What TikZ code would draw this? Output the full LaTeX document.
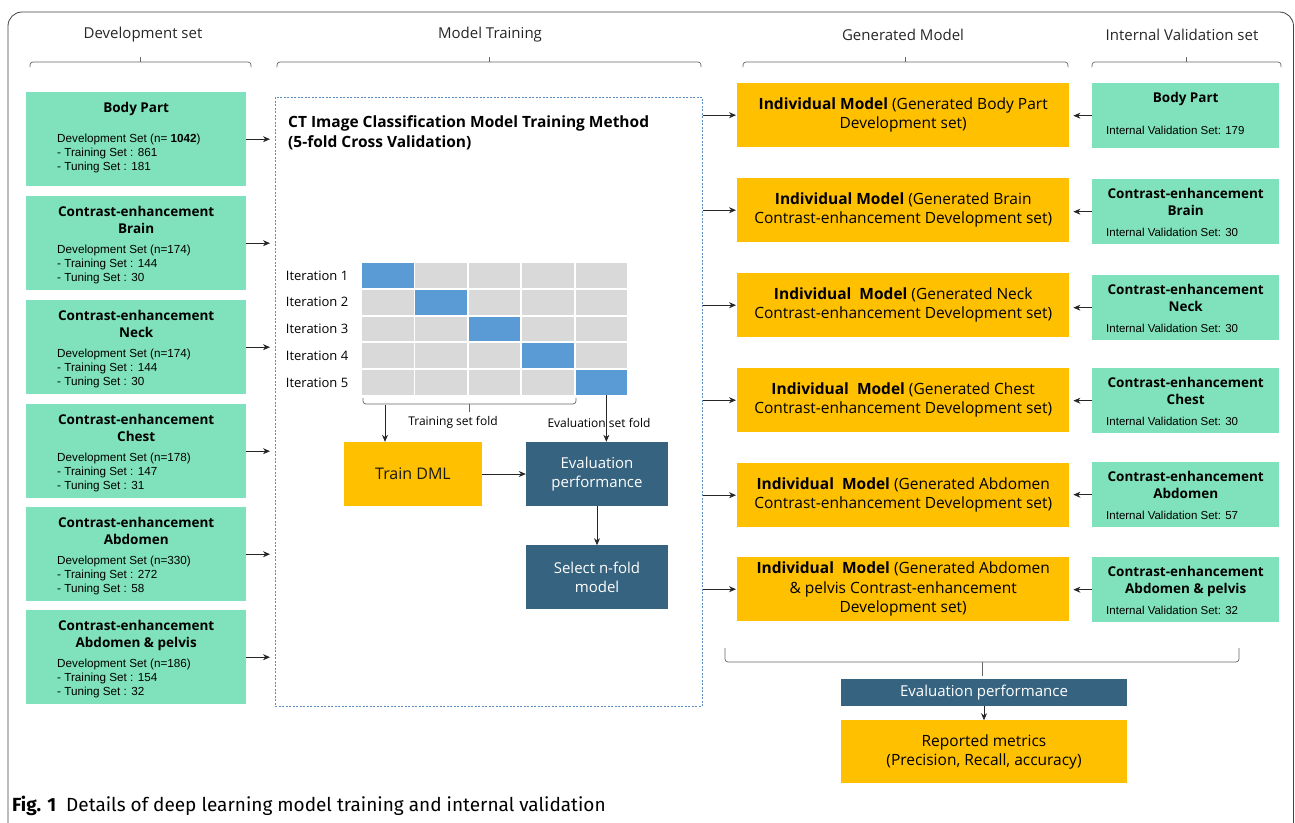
\documentclass[tikz,border=0pt]{standalone}
\usepackage{fontspec}
\setmainfont{Open Sans}
\newfontfamily\arialfont{Liberation Sans}
\newfontfamily\capfont{Fira Sans}
\usetikzlibrary{positioning, arrows, arrows.meta}

\definecolor{mint}{HTML}{80E2BD}
\definecolor{amber}{HTML}{FFC000}
\definecolor{navy}{HTML}{36637F}
\definecolor{cellgray}{HTML}{D9D9D9}
\definecolor{cellblue}{HTML}{5B9BD5}
\definecolor{dashblue}{HTML}{5B8CC2}

% a flat brace: x1, x2, line y, end y, tip y
\newcommand{\colbrace}[5]{%
  \draw[bracket, rounded corners=3pt] (#1,#4) -- (#1,#3) -- (#2,#3) -- (#2,#4);
  \draw[bracket] ({(#1+#2)/2},#3) -- ({(#1+#2)/2},#5);}

\tikzset{
  devbox/.style={
    rectangle,
    minimum width=220pt,
    minimum height=94pt,
    inner sep=0pt,
    fill=mint
    },
  valbox/.style={
    rectangle,
    minimum width=187pt,
    minimum height=65pt,
    inner sep=0pt,
    fill=mint
    },
  genbox/.style={
    rectangle,
    minimum width=332pt,
    minimum height=64pt,
    align=center,
    fill=amber,
    font=\fontsize{15.5}{19.5}\selectfont
    },
  navybox/.style={
    rectangle,
    minimum width=142pt,
    minimum height=64pt,
    align=center,
    fill=navy,
    text=white,
    font=\fontsize{15}{19}\selectfont
    },
  boxtitle/.style={align=center, inner sep=0pt, font=\bfseries\fontsize{13.5}{17}\selectfont},
  boxdetail/.style={align=left, inner sep=0pt, font=\arialfont\fontsize{11.7}{14}\selectfont},
  header/.style={text=black!85, font=\fontsize{15}{18}\selectfont},
  bracket/.style={draw=black!60, line width=0.7pt},
  arrow/.style={->, >={Stealth[length=7pt, width=6pt]}, line width=0.8pt, black!85},
}

\begin{document}
\begin{tikzpicture}[x=1pt, y=-1pt]
    \tikzstyle{foldcell}=[rectangle, minimum width=51.5pt, minimum height=24.8pt, inner sep=0pt]
    \tikzstyle{iterlabel}=[anchor=east, font=\fontsize{13}{15}\selectfont]
    \tikzstyle{foldlabel}=[font=\fontsize{12}{14}\selectfont]
    \tikzstyle{valdetail}=[boxdetail, font=\arialfont\fontsize{11.5}{12}\selectfont]

    \useasboundingbox (0,0) rectangle (1295,822);

    % Outer frame, open at the bottom
    \draw[black!75, line width=0.8pt, rounded corners=14pt]
        (8,824) -- (8,12) -- (1293.5,12) -- (1293.5,824);

    % Column headers and their braces
    \foreach \name / \xa / \xb / \xt / \txt in {dev/30/251/143/Development set,
        mt/277/701/490/Model Training, gm/743/1068/903/Generated Model,
        iv/1092/1281/1182/Internal Validation set}
    {
        \node[header] (head-\name) at (\xt,35) {\txt};
        \colbrace{\xa}{\xb}{62}{67}{57}
    }

    % Dashed frame around the cross validation
    \node[rectangle, draw=dashblue, dash pattern=on 2pt off 1.5pt, line width=0.9pt,
          minimum width=427pt, minimum height=609pt, anchor=north west] (cvbox) at (275,97) {};
    \node[anchor=north west, align=left, inner sep=0pt, font=\bfseries\fontsize{15.5}{20}\selectfont]
        (cvtitle) at ([xshift=13pt, yshift=-18pt]cvbox.north west)
        {CT Image Classification Model Training Method\\(5-fold Cross Validation)};

    % Draw the development set boxes
    \foreach \i / \ytop / \title / \dy / \detail in {
        1/92/{Body Part}/42pt/{Development Set (n= \textbf{1042})\\- Training Set : 861\\- Tuning Set : 181},
        2/196/{Contrast-enhancement\\Brain}/49pt/{Development Set (n=174)\\- Training Set : 144\\- Tuning Set : 30},
        3/300/{Contrast-enhancement\\Neck}/49pt/{Development Set (n=174)\\- Training Set : 144\\- Tuning Set : 30},
        4/404/{Contrast-enhancement\\Chest}/49pt/{Development Set (n=178)\\- Training Set : 147\\- Tuning Set : 31},
        5/507/{Contrast-enhancement\\Abdomen}/49pt/{Development Set (n=330)\\- Training Set : 272\\- Tuning Set : 58},
        6/610/{Contrast-enhancement\\Abdomen \& pelvis}/49pt/{Development Set (n=186)\\- Training Set : 154\\- Tuning Set : 32}}
    {
        \node[devbox, anchor=north west] (dev-\i) at (26,\ytop) {};
        \node[boxtitle, anchor=north] (dev-\i-t) at ([yshift=-10pt]dev-\i.north) {\title};
        \node[boxdetail, anchor=north west] (dev-\i-d) at ([xshift=31pt, yshift=-\dy]dev-\i.north west) {\detail};
        \draw[arrow, shorten >=5pt] (dev-\i.east) -- (dev-\i.east -| cvbox.west);
    }

    % Draw the 5-fold grid
    \foreach \r in {1,...,5}
    {
        \foreach \c in {1,...,5}
        {
            \ifnum\r=\c \def\foldcol{cellblue}\else\def\foldcol{cellgray}\fi
            \node[foldcell, fill=\foldcol] (cell-\r-\c) at ({387.75+53.4*(\c-1)}, {275.4+26.8*(\r-1)}) {};
        }
        \node[iterlabel] (iter-\r) at ([xshift=-10pt]cell-\r-1.west) {Iteration \r};
    }

    % Training / evaluation split of the folds
    \colbrace{363}{576}{404}{398}{412}
    \node[foldlabel] (trainlab) at (453,422) {Training set fold};
    \node[foldlabel] (evallab) at (599,423) {Evaluation set fold};
    \coordinate (trainfold) at (385,405);

    \node[navybox, fill=amber, text=black!90, minimum width=138pt, font=\fontsize{16}{19}\selectfont]
        (traindml) at (413,474) {Train DML};
    \node[navybox] (evalperf) at (597,474) {Evaluation\\performance};
    \node[navybox, below=39pt of evalperf] (selectfold) {Select n-fold\\model};

    \draw[arrow] (trainfold) -- (trainfold |- traindml.north);
    \draw[arrow] ([xshift=5pt]cell-5-5.south) -- ([xshift=5pt]cell-5-5.south |- evalperf.north);
    \draw[arrow] (traindml) -- (evalperf);
    \draw[arrow] (evalperf) -- (selectfold);

    % Generated models and internal validation sets
    \foreach \i / \yg / \yv / \model / \title / \dy / \vset in {
        1/83/83/{\textbf{Individual Model} (Generated Body Part\\Development set)}/{Body Part}/43pt/179,
        2/178/179/{\textbf{Individual Model} (Generated Brain\\Contrast-enhancement Development set)}/{Contrast-enhancement\\Brain}/49pt/30,
        3/273/275/{\textbf{Individual\ \ Model} (Generated Neck\\Contrast-enhancement Development set)}/{Contrast-enhancement\\Neck}/49pt/30,
        4/368/368/{\textbf{Individual\ \ Model} (Generated Chest\\Contrast-enhancement Development set)}/{Contrast-enhancement\\Chest}/49pt/30,
        5/463/462/{\textbf{Individual\ \ Model} (Generated Abdomen\\Contrast-enhancement Development set)}/{Contrast-enhancement\\Abdomen}/49pt/57,
        6/557/557/{\textbf{Individual\ \ Model} (Generated Abdomen\\\& pelvis Contrast-enhancement\\Development set)}/{Contrast-enhancement\\Abdomen \& pelvis}/49pt/32}
    {
        \node[genbox, anchor=north west] (gen-\i) at (737,\yg) {\model};
        \node[valbox, anchor=north west] (val-\i) at (1092,\yv) {};
        \node[boxtitle, anchor=north] (val-\i-t) at ([yshift=-9pt]val-\i.north) {\title};
        \node[valdetail, anchor=north west] (val-\i-d) at ([xshift=14pt, yshift=-\dy]val-\i.north west) {Internal Validation Set: \vset};
        \draw[arrow, shorten >=1pt] (cvbox.east |- gen-\i.west) -- (gen-\i.west);
        \draw[arrow, shorten >=4pt] (val-\i.west) -- (val-\i.west -| gen-\i.east);
    }

    % Overall evaluation
    \colbrace{725}{1239}{662}{648}{676}
    \node[navybox, minimum width=286pt, minimum height=27pt] (evalall) at (984,692.5) {Evaluation performance};
    \node[genbox, minimum width=286pt, minimum height=63pt, below=14pt of evalall]
        (report) {Reported metrics\\(Precision, Recall, accuracy)};
    \draw[arrow] (evalall) -- (report);

    % Caption
    \node[anchor=base west, inner sep=0pt, font=\capfont\fontsize{19}{22}\selectfont] (caption) at (12,811)
        {\textbf{Fig. 1}\ \ Details of deep learning model training and internal validation};
\end{tikzpicture}
\end{document}
